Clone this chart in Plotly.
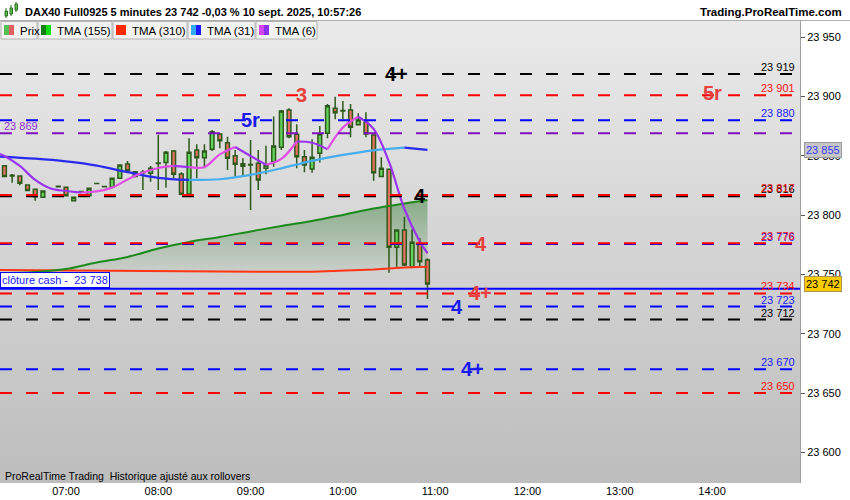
import base64
import plotly.graph_objects as go

DAY = "2025-09-10 "

# --- 5 minute candles (DAX40 Full0925) ---
candle_time = ["06:20", "06:25", "06:30", "06:35", "06:40", "06:45", "06:55",
               "07:00", "07:05", "07:10", "07:15", "07:20", "07:25", "07:30",
               "07:35", "07:40", "07:45", "07:50", "07:55", "08:00", "08:05",
               "08:10", "08:15", "08:20", "08:25", "08:30", "08:35", "08:40",
               "08:45", "08:50", "08:55", "09:00", "09:05", "09:10", "09:15",
               "09:20", "09:25", "09:30", "09:35", "09:40", "09:45", "09:50",
               "09:55", "10:00", "10:05", "10:10", "10:15", "10:20", "10:25",
               "10:30", "10:35", "10:40", "10:45", "10:50", "10:55"]
candle_open = [23841.6, 23833.0, 23833.0, 23825.5, 23821.8, 23815.1, 23824.0,
               23823.5, 23812.2, 23819.8, 23816.4, 23826.6, 23824.0, 23823.5,
               23831.1, 23843.2, 23832.5, 23835.8, 23835.3, 23843.6, 23844.3,
               23854.0, 23834.7, 23817.9, 23855.0, 23848.5, 23855.6, 23868.5,
               23861.1, 23850.0, 23841.2, 23842.4, 23843.8, 23839.5, 23845.1,
               23857.2, 23888.7, 23868.2, 23849.3, 23838.9, 23852.2, 23869.0,
               23890.1, 23887.9, 23888.7, 23876.3, 23878.3, 23867.6, 23832.5,
               23838.7, 23772.9, 23787.5, 23756.6, 23775.5, 23762.2]
candle_high = [23842.0, 23834.7, 23833.5, 23826.0, 23822.0, 23820.5, 23824.3,
               23824.0, 23815.2, 23820.0, 23823.0, 23826.8, 23824.2, 23831.3,
               23842.5, 23845.7, 23836.9, 23838.1, 23841.5, 23867.6, 23854.1,
               23855.0, 23836.2, 23864.8, 23859.8, 23859.8, 23871.8, 23868.5,
               23866.2, 23855.0, 23848.0, 23863.4, 23855.0, 23858.6, 23883.1,
               23888.7, 23890.1, 23876.6, 23855.0, 23864.0, 23875.2, 23893.8,
               23899.9, 23896.3, 23893.8, 23885.9, 23886.8, 23867.8, 23848.8,
               23838.9, 23787.6, 23798.7, 23788.2, 23780.5, 23763.7]
candle_low = [23832.0, 23827.4, 23825.2, 23820.3, 23812.2, 23815.0, 23823.8,
              23816.2, 23812.0, 23819.6, 23816.2, 23826.4, 23823.8, 23823.3,
              23830.9, 23837.3, 23832.3, 23821.3, 23828.2, 23821.3, 23823.2,
              23831.1, 23817.0, 23817.0, 23831.1, 23839.5, 23854.1, 23856.4,
              23838.1, 23832.5, 23832.5, 23804.4, 23821.3, 23834.5, 23840.9,
              23855.0, 23864.8, 23839.5, 23836.2, 23835.8, 23844.3, 23864.8,
              23880.9, 23880.9, 23865.7, 23875.8, 23865.7, 23829.1, 23832.2,
              23751.5, 23756.6, 23757.2, 23755.2, 23757.2, 23729.3]
candle_close = [23832.5, 23833.6, 23827.0, 23820.7, 23815.6, 23820.4, 23824.3,
                23816.4, 23815.1, 23820.0, 23822.7, 23826.8, 23824.2, 23831.1,
                23842.3, 23837.5, 23836.7, 23836.1, 23839.5, 23844.0, 23853.0,
                23834.5, 23817.6, 23853.0, 23848.5, 23854.1, 23870.4, 23862.8,
                23848.0, 23842.9, 23843.4, 23842.8, 23829.7, 23842.3, 23858.3,
                23887.9, 23866.2, 23849.3, 23842.3, 23848.8, 23868.5, 23892.3,
                23886.4, 23888.3, 23874.1, 23880.3, 23868.5, 23835.8, 23839.5,
                23772.9, 23787.5, 23758.0, 23777.1, 23760.8, 23742.0]

# --- moving averages (read at coarser times) ---
ma_time = ["06:15", "06:40", "07:00", "07:20", "07:40", "08:00", "08:20", "08:40",
           "09:00", "09:20", "09:40", "10:00", "10:20", "10:40", "10:55"]
tma155 = [23750.8, 23752.1, 23754.6, 23760.1, 23764.8, 23771.9, 23777.4, 23781.6,
          23786.3, 23790.9, 23795.1, 23800.2, 23805.6, 23809.9, 23812.8]
tma310 = [23753.8, 23753.6, 23753.4, 23753.0, 23752.7, 23752.5, 23752.3, 23752.1,
          23752.1, 23752.2, 23752.4, 23753.1, 23754.2, 23755.9, 23756.6]
tma31 = [23849.5, 23847.6, 23845.3, 23841.8, 23836.3, 23831.5, 23829.7, 23830.3,
         23834.0, 23839.5, 23845.8, 23850.8, 23854.7, 23857.0, 23855.0]
tma6_time = ["06:15", "06:20", "06:30", "06:40", "06:50", "07:00", "07:10", "07:20",
             "07:30", "07:40", "07:50", "08:00", "08:10", "08:20", "08:30", "08:40",
             "08:50", "09:00", "09:10", "09:20", "09:30", "09:40", "09:50", "10:00",
             "10:10", "10:20", "10:30", "10:40", "10:50", "10:55"]
tma6 = [23852.4, 23849.9, 23841.5, 23829.7, 23822.5, 23820.4, 23819.1, 23820.0,
        23823.2, 23830.1, 23836.0, 23839.8, 23841.5, 23840.5, 23840.6, 23851.2,
        23857.5, 23849.9, 23842.5, 23847.4, 23862.1, 23861.1, 23855.6, 23873.9,
        23883.0, 23872.7, 23844.9, 23805.2, 23777.8, 23767.9]

# --- horizontal levels ---
black_levels = [23919, 23816, 23712]
red_levels = [23901, 23817, 23776.3, 23734, 23650]
blue_levels = [23880, 23775.6, 23723, 23670]
purple_levels = [23869]
cash_close = 23738
last_price = 23742
tma31_last = 23855

legend_names = ["Prix", "TMA (155)", "TMA (310)", "TMA (31)", "TMA (6)"]

title = "DAX40 Full0925 5 minutes 23 742 -0,03 % 10 sept. 2025, 10:57:26"
site = "Trading.ProRealTime.com"
footer = "ProRealTime Trading\u00a0 Historique ajusté aux rollovers"

FONT = "Liberation Sans, Arial, sans-serif"
Y_RANGE = [23574.2, 23963.7]
X_RANGE = [DAY + "06:17:06", DAY + "14:57:11"]

ct = [DAY + t for t in candle_time]
mt = [DAY + t for t in ma_time]
t6 = [DAY + t for t in tma6_time]


def xp(px):
    return px / 800.0


def yp(py):
    return (483.0 - py) / 462.0


def fmt(v):
    return f"{v:,.0f}".replace(",", " ")


def two_tone(times, values, rise_color, fall_color, width=2.2):
    out = []
    start = 0
    for i in range(1, len(values)):
        up = values[i] >= values[i - 1]
        last = i == len(values) - 1
        if last or (values[i + 1] >= values[i]) != up:
            out.append(go.Scatter(
                x=times[start:i + 1], y=values[start:i + 1], mode="lines",
                line=dict(color=rise_color if up else fall_color, width=width, shape="spline"),
                xaxis="x2", yaxis="y2", hoverinfo="skip"))
            start = i
    return out


fig = go.Figure()

# fill between the two slow averages (main axes, under the candles)
fig.add_trace(go.Scatter(x=mt, y=tma310, mode="lines", line=dict(width=0),
                         hoverinfo="skip"))
fig.add_trace(go.Scatter(
    x=mt, y=tma155, mode="lines", line=dict(width=0), fill="tonexty",
    fillgradient=dict(type="vertical", start=23752, stop=23813,
                      colorscale=[[0, "rgba(50,125,50,0.04)"], [1, "rgba(50,125,50,0.48)"]]),
    hoverinfo="skip"))

# candles on the overlay axes
fig.add_trace(go.Candlestick(
    x=ct, open=candle_open, high=candle_high, low=candle_low, close=candle_close,
    increasing=dict(line=dict(color="#2d5a1b", width=1.5), fillcolor="#62d45a"),
    decreasing=dict(line=dict(color="#2d5a1b", width=1.5), fillcolor="#e6705f"),
    whiskerwidth=0, xaxis="x2", yaxis="y2", hoverinfo="skip"))

fig.add_trace(go.Scatter(x=mt, y=tma310, mode="lines", line=dict(color="#ff3414", width=2),
                         xaxis="x2", yaxis="y2", hoverinfo="skip"))
fig.add_trace(go.Scatter(x=mt, y=tma155, mode="lines",
                         line=dict(color="#1c8a1c", width=2, shape="spline"),
                         xaxis="x2", yaxis="y2", hoverinfo="skip"))
for tr in two_tone(mt, tma31, "#45aef0", "#2a2af0"):
    fig.add_trace(tr)
for tr in two_tone(t6, tma6, "#e04ee6", "#9a34f2"):
    fig.add_trace(tr)

# level lines
shapes = []
annots = []
level_groups = [(black_levels, "#000000", "#000000"),
                (blue_levels, "#0000ff", "#1a1aff"),
                (purple_levels, "#8010c0", "#9030d0"),
                (red_levels, "#ff0000", "#ff1010")]
for values, col, tcol in level_groups:
    for v in values:
        shapes.append(dict(type="line", xref="paper", x0=0, x1=1, yref="y", y0=v, y1=v,
                           line=dict(color=col, width=2, dash="12px,14px"), layer="above"))
        if col != "#8010c0":
            annots.append(dict(xref="paper", x=xp(797), xanchor="right", yref="y", y=v,
                               yanchor="bottom", yshift=-1, text=fmt(v), showarrow=False,
                               font=dict(size=11, color=tcol, family=FONT)))
        else:
            annots.append(dict(xref="paper", x=xp(2), xanchor="left", yref="y", y=v,
                               yanchor="bottom", yshift=-1, text=fmt(v), showarrow=False,
                               font=dict(size=11, color=tcol, family=FONT)))

shapes.append(dict(type="line", xref="paper", x0=0, x1=1, yref="y", y0=cash_close, y1=cash_close,
                   line=dict(color="#0000ff", width=2), layer="above"))
annots.append(dict(xref="paper", x=0, xanchor="left", yref="y", y=cash_close, yanchor="bottom",
                   yshift=1, text="clôture cash - \u00a0" + fmt(cash_close), showarrow=False,
                   bgcolor="white", bordercolor="#0000ff", borderwidth=1, borderpad=1,
                   font=dict(size=11, color="#2020ff", family=FONT)))

# signal letters on the levels
signals = [("10:35:10", 23919, "4+", "#000000"),
           ("09:33:25", 23901, "3", "#e8403c"),
           ("08:59:40", 23880, "5r", "#1a1aee"),
           ("14:00:00", 23903, "5r", "#e8403c"),
           ("10:50:10", 23816, "4", "#000000"),
           ("11:29:50", 23776, "4", "#e8403c"),
           ("11:29:10", 23734, "4+", "#e8403c"),
           ("11:14:15", 23723, "4", "#1a1aee"),
           ("11:24:00", 23670, "4+", "#1a1aee")]
for t, v, txt, col in signals:
    annots.append(dict(xref="x", x=DAY + t, yref="y", y=v, text="<b>" + txt + "</b>",
                       showarrow=False, xanchor="center", yanchor="middle",
                       font=dict(size=20, color=col, family=FONT)))

# axis badges
annots.append(dict(xref="paper", x=xp(804), xanchor="left", yref="y", y=tma31_last,
                   text=fmt(tma31_last), showarrow=False, bgcolor="#c6c6c6",
                   bordercolor="#9a9a9a", borderwidth=1, borderpad=1,
                   font=dict(size=11, color="#3a3aff", family=FONT)))
annots.append(dict(xref="paper", x=xp(804), xanchor="left", yref="y", y=last_price,
                   text=fmt(last_price), showarrow=False, bgcolor="#ffcc00",
                   bordercolor="#a89050", borderwidth=1, borderpad=1,
                   font=dict(size=11, color="#000000", family=FONT)))

# header
annots.append(dict(xref="paper", yref="paper", x=xp(23), y=yp(12), xanchor="left",
                   yanchor="middle", text="<b>" + title + "</b>", showarrow=False,
                   font=dict(size=11, color="#000000", family=FONT)))
annots.append(dict(xref="paper", yref="paper", x=xp(844), y=yp(12), xanchor="right",
                   yanchor="middle", text="<b>" + site + "</b>", showarrow=False,
                   font=dict(size=11.5, color="#000000", family=FONT)))
annots.append(dict(xref="paper", yref="paper", x=xp(3), y=yp(476), xanchor="left",
                   yanchor="middle", text=footer, showarrow=False,
                   font=dict(size=10.5, color="#000000", family=FONT)))
shapes.append(dict(type="line", xref="paper", yref="paper", x0=0, x1=xp(850),
                   y0=yp(20.5), y1=yp(20.5), line=dict(color="#b0b0b0", width=1)))

# small candle icon in the header
for x0, b0, b1, w0, w1 in [(5, 11, 16, 8, 18), (10, 8, 14, 5, 16), (15, 4, 10, 2, 12)]:
    shapes.append(dict(type="line", xref="paper", yref="paper", x0=xp(x0 + 1), x1=xp(x0 + 1),
                       y0=yp(w0), y1=yp(w1), line=dict(color="#2d6a1b", width=1)))
    shapes.append(dict(type="rect", xref="paper", yref="paper", x0=xp(x0), x1=xp(x0 + 2.5),
                       y0=yp(b0), y1=yp(b1), fillcolor="#58c850",
                       line=dict(color="#2d6a1b", width=1)))

# legend row
boxes = [(1, 37), (38, 112), (113, 187), (188, 255), (256, 317)]
swatches = [("#55bf55", "#e06060"), ("#128012", "#10de10"), ("#ff2a00", "#ff2a00"),
            ("#35a8f0", "#1a1aff"), ("#d545f0", "#8a2ff0")]
for (bx0, bx1), (c1, c2), name in zip(boxes, swatches, legend_names):
    shapes.append(dict(type="rect", xref="paper", yref="paper", x0=xp(bx0), x1=xp(bx1),
                       y0=yp(39), y1=yp(21.5), fillcolor="#f2f2f2",
                       line=dict(color="#b4b4b4", width=1), layer="above"))
    shapes.append(dict(type="rect", xref="paper", yref="paper", x0=xp(bx0 + 3), x1=xp(bx0 + 8),
                       y0=yp(35), y1=yp(25), fillcolor=c1, line=dict(width=0), layer="above"))
    shapes.append(dict(type="rect", xref="paper", yref="paper", x0=xp(bx0 + 8), x1=xp(bx0 + 13),
                       y0=yp(35), y1=yp(25), fillcolor=c2, line=dict(width=0), layer="above"))
    annots.append(dict(xref="paper", yref="paper", x=xp(bx0 + 17), y=yp(30.5), xanchor="left",
                       yanchor="middle", text=name, showarrow=False,
                       font=dict(size=11.5, color="#000000", family=FONT)))

# plot background gradient
svg = ("<svg xmlns='http://www.w3.org/2000/svg' width='10' height='100' viewBox='0 0 10 100' "
       "preserveAspectRatio='none'><defs><linearGradient id='g' x1='0' y1='0' x2='0' y2='1'>"
       "<stop offset='0' stop-color='#eaeaea'/><stop offset='1' stop-color='#bdbdbd'/>"
       "</linearGradient></defs><rect width='10' height='100' fill='url(#g)'/></svg>")
bg = "data:image/svg+xml;base64," + base64.b64encode(svg.encode()).decode()

fig.update_layout(
    width=850, height=500,
    margin=dict(l=0, r=50, t=21, b=17),
    paper_bgcolor="white", plot_bgcolor="rgba(0,0,0,0)",
    showlegend=False, separators=", ",
    font=dict(family=FONT, size=11, color="#000000"),
    images=[dict(source=bg, xref="paper", yref="paper", x=0, y=1, sizex=1, sizey=1,
                 sizing="stretch", xanchor="left", yanchor="top", layer="below")],
    shapes=shapes, annotations=annots,
    xaxis=dict(type="date", range=X_RANGE, tickformat="%H:%M", dtick=3600000,
               tick0=DAY + "07:00", showgrid=False, zeroline=False, ticks="",
               tickfont=dict(size=11), rangeslider=dict(visible=False), fixedrange=True),
    yaxis=dict(side="right", range=Y_RANGE, dtick=50, tick0=23600, tickformat=",.0f",
               showgrid=False, zeroline=False, ticks="outside", ticklen=4,
               tickcolor="#555555", showline=True, linecolor="#a0a0a0",
               tickfont=dict(size=11), fixedrange=True),
    xaxis2=dict(type="date", overlaying="x", range=X_RANGE, visible=False,
                rangeslider=dict(visible=False)),
    yaxis2=dict(overlaying="y", range=Y_RANGE, visible=False),
)

# the page is photographed from its top-left corner: drop the default body margin
fig.write_html("out.html", config={"displayModeBar": False},
               post_script="document.body.style.margin='0';")
